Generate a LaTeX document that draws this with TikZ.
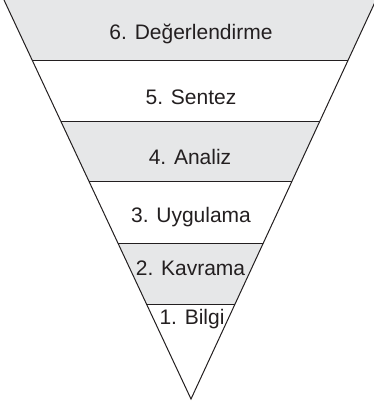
\documentclass[tikz,border=0pt]{standalone}
\usepackage{fontspec}
\setmainfont{Liberation Sans}
\usetikzlibrary{calc}
\definecolor{bandgray}{HTML}{E6E7E8}
\definecolor{ink}{HTML}{231F20}
\begin{document}
\begin{tikzpicture}[x=1pt,y=-1pt,
  bandtext/.style={font=\fontsize{21}{25}\selectfont, text=ink, anchor=base, inner sep=0pt},
  edgeline/.style={draw=ink, line width=1pt}]
\useasboundingbox (0,0) rectangle (374,405);
\coordinate (TL) at (4,0);
\coordinate (TR) at (376,0);
\coordinate (A) at (191,399);
\foreach \n/\t in {1/0.1516, 2/0.3045, 3/0.4561, 4/0.6103, 5/0.7619} {
  \coordinate (L\n) at ($(TL)!\t!(A)$);
  \coordinate (R\n) at ($(TR)!\t!(A)$);
}
\fill[bandgray] (TL) -- (TR) -- (R1) -- (L1) -- cycle;
\fill[bandgray] (L2) -- (R2) -- (R3) -- (L3) -- cycle;
\fill[bandgray] (L4) -- (R4) -- (R5) -- (L5) -- cycle;
\foreach \n in {1,...,5} \draw[edgeline] (L\n) -- (R\n);
\draw[edgeline] (TL) -- (A) -- (TR);
\node[bandtext] (t6) at (191,39) {6. Değerlendirme};
\node[bandtext] (t5) at (191,104) {5. Sentez};
\node[bandtext] (t4) at (190,164) {4. Analiz};
\node[bandtext] (t3) at (191,222) {3. Uygulama};
\node[bandtext] (t2) at (190.5,275) {2. Kavrama};
\node[bandtext] (t1) at (192,324) {1. Bilgi};
\end{tikzpicture}
\end{document}
